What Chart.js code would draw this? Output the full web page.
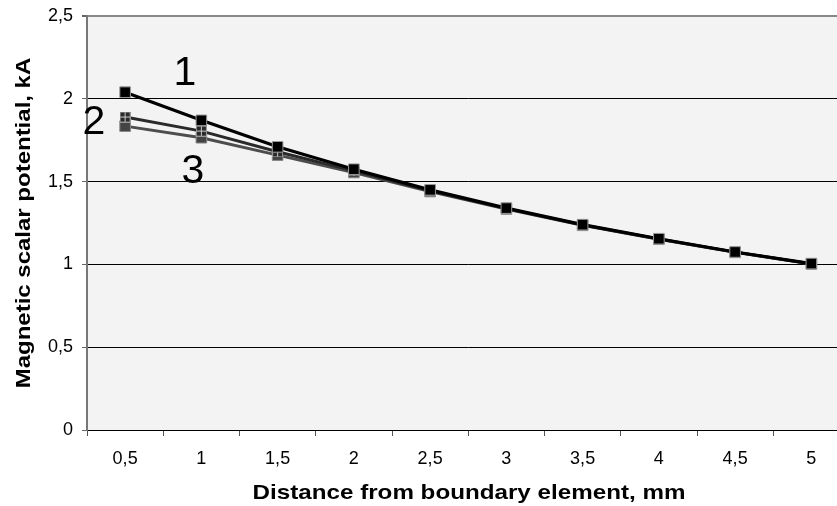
<!DOCTYPE html>
<html lang="en">
<head>
<meta charset="UTF-8">
<title>Magnetic scalar potential</title>
<script src="https://cdn.jsdelivr.net/npm/chart.js@4.4.0/dist/chart.umd.min.js"></script>
<style>
  body, html { margin: 0; padding: 0; background: #fff; overflow: hidden; }
  #wrap { width: 858px; height: 506px; position: relative; }
</style>
</head>
<body>
<div id="wrap"><canvas id="chart"></canvas></div>
<script>
const categories = ['0,5', '1', '1,5', '2', '2,5', '3', '3,5', '4', '4,5', '5'];
const series1 = [2.04, 1.87, 1.71, 1.575, 1.45, 1.34, 1.24, 1.155, 1.075, 1.005];
const series2 = [1.89, 1.805, 1.68, 1.565, 1.445, 1.337, 1.238, 1.153, 1.074, 1.004];
const series3 = [1.835, 1.765, 1.66, 1.555, 1.44, 1.335, 1.236, 1.152, 1.073, 1.003];
const yTicks = [0, 0.5, 1, 1.5, 2, 2.5];
const xTitle = 'Distance from boundary element, mm';
const yTitle = 'Magnetic scalar potential, kA';
const curveLabels = [
  { text: '1', x: 185, y: 74 },
  { text: '2', x: 94, y: 123 },
  { text: '3', x: 193, y: 172 }
];

// square marker with a light cross for curve 2
function crossMarker() {
  let c = document.createElement('canvas');
  c.width = 11; c.height = 11;
  let g = c.getContext('2d');
  g.fillStyle = '#999';
  g.fillRect(0, 0, 11, 11);
  g.fillStyle = '#2a2a2a';
  g.fillRect(1, 1, 9, 9);
  g.fillStyle = '#ccc';
  g.fillRect(5, 1, 1, 9);
  g.fillRect(1, 5, 9, 1);
  return c;
}

const plotBackground = {
  id: 'plotBackground',
  beforeDraw(chart) {
    const { ctx, chartArea } = chart;
    ctx.save();
    ctx.fillStyle = '#f3f3f3';
    ctx.fillRect(chartArea.left, chartArea.top, chartArea.right - chartArea.left, chartArea.bottom - chartArea.top);
    ctx.restore();
  }
};

// axis titles are a bit wider than plain Arial in the original, so stretch them
const axisTitles = {
  id: 'axisTitles',
  afterDraw(chart) {
    const ctx = chart.ctx;
    ctx.save();
    ctx.fillStyle = '#000';
    ctx.font = 'bold 20.5px "Liberation Sans", Arial, sans-serif';
    ctx.textAlign = 'center';
    ctx.textBaseline = 'alphabetic';
    ctx.save();
    ctx.translate(469, 499);
    ctx.scale(1.18, 1);
    ctx.fillText(xTitle, 0, 0);
    ctx.restore();
    ctx.save();
    ctx.translate(30, 223);
    ctx.rotate(-Math.PI / 2);
    ctx.scale(1.17, 1);
    ctx.fillText(yTitle, 0, 0);
    ctx.restore();
    ctx.restore();
  }
};

const curveText = {
  id: 'curveText',
  afterDraw(chart) {
    const ctx = chart.ctx;
    ctx.save();
    ctx.fillStyle = '#000';
    ctx.font = '41px "Liberation Sans", Arial, sans-serif';
    ctx.textAlign = 'center';
    ctx.textBaseline = 'middle';
    for (let l of curveLabels) ctx.fillText(l.text, l.x, l.y);
    ctx.restore();
  }
};

const ctx = document.getElementById('chart').getContext('2d');
new Chart(ctx, {
  type: 'line',
  data: {
    labels: categories,
    datasets: [
      {
        label: '1', data: series1,
        borderColor: '#000', borderWidth: 3.2,
        pointStyle: 'rect', pointRadius: 7.5, pointBackgroundColor: '#000',
        pointBorderColor: '#999', pointBorderWidth: 1, order: 1
      },
      {
        label: '2', data: series2,
        borderColor: '#2a2a2a', borderWidth: 3,
        pointStyle: crossMarker(), order: 2
      },
      {
        label: '3', data: series3,
        borderColor: '#4d4d4d', borderWidth: 3,
        pointStyle: 'rect', pointRadius: 7.5, pointBackgroundColor: '#444',
        pointBorderColor: '#888', pointBorderWidth: 1, order: 3
      }
    ]
  },
  options: {
    responsive: true,
    maintainAspectRatio: false,
    animation: false,
    layout: { padding: { top: 16, right: 6, left: 0, bottom: 0 } },
    plugins: { legend: { display: false }, tooltip: { enabled: false } },
    scales: {
      x: {
        offset: true,
        grid: { offset: true, drawOnChartArea: false, drawTicks: true, tickLength: 6, color: '#555' },
        border: { color: '#000', width: 1 },
        ticks: { color: '#000', padding: 12, font: { size: 18, family: '"Liberation Sans", Arial' }, maxRotation: 0 },
        afterFit(scale) { scale.height = 76; scale.paddingLeft = 0; scale.paddingRight = 0; }
      },
      y: {
        min: 0, max: 2.5,
        afterBuildTicks(scale) { scale.ticks = yTicks.map(v => ({ value: v })); },
        grid: {
          color: c => c.tick && c.tick.value === 2.5 ? '#888' : '#000',
          lineWidth: c => c.tick && c.tick.value === 2.5 ? 2 : 1,
          tickLength: 5, tickColor: '#666'
        },
        border: { color: '#777', width: 2 },
        ticks: { color: '#000', padding: 9, font: { size: 18, family: '"Liberation Sans", Arial' },
                 callback: v => String(v).replace('.', ',') },
        afterFit(scale) { scale.width = 87; scale.paddingTop = 0; scale.paddingBottom = 0; }
      }
    }
  },
  plugins: [plotBackground, axisTitles, curveText]
});
</script>
</body>
</html>
